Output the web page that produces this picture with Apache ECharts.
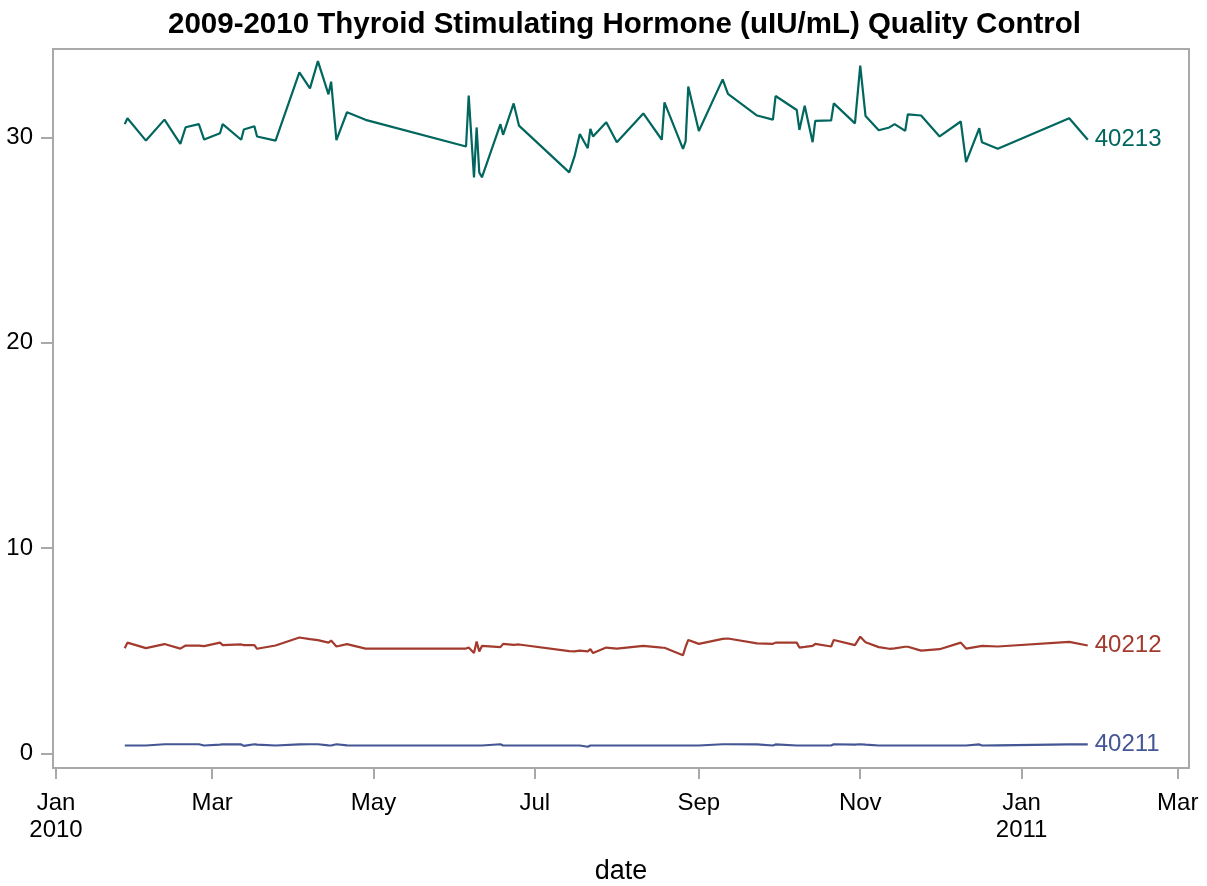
<!DOCTYPE html>
<html>
<head>
<meta charset="utf-8">
<script src="https://cdn.jsdelivr.net/npm/echarts@6/dist/echarts.min.js"></script>
<style>
	html, body { margin: 0; padding: 0; background: #fff; }
	#chart { width: 1207px; height: 886px; }
</style>
</head>
<body>
<div id="chart"></div>
<script>
// run dates (same QC runs for all three lots)
var dates = [
	'2010-01-27', '2010-01-28', '2010-02-04', '2010-02-11', '2010-02-17', '2010-02-19', '2010-02-24', '2010-02-26', '2010-03-04', '2010-03-05',
	'2010-03-12', '2010-03-13', '2010-03-17', '2010-03-18', '2010-03-25', '2010-04-03', '2010-04-07', '2010-04-10', '2010-04-14', '2010-04-15',
	'2010-04-17', '2010-04-21', '2010-04-28', '2010-06-05', '2010-06-06', '2010-06-08', '2010-06-09', '2010-06-10', '2010-06-11', '2010-06-18',
	'2010-06-19', '2010-06-23', '2010-06-25', '2010-07-14', '2010-07-16', '2010-07-18', '2010-07-21', '2010-07-22', '2010-07-23', '2010-07-28',
	'2010-08-01', '2010-08-11', '2010-08-18', '2010-08-19', '2010-08-26', '2010-08-27', '2010-08-28', '2010-09-01', '2010-09-10', '2010-09-12',
	'2010-09-23', '2010-09-29', '2010-09-30', '2010-10-08', '2010-10-09', '2010-10-11', '2010-10-14', '2010-10-15', '2010-10-21', '2010-10-22',
	'2010-10-30', '2010-11-01', '2010-11-03', '2010-11-08', '2010-11-12', '2010-11-14', '2010-11-18', '2010-11-19', '2010-11-24', '2010-12-01',
	'2010-12-09', '2010-12-11', '2010-12-16', '2010-12-17', '2010-12-23', '2011-01-19', '2011-01-26'
];

var lot40211 = [
	0.39, 0.39, 0.39, 0.45, 0.45, 0.45, 0.45, 0.39, 0.43, 0.45,
	0.44, 0.37, 0.45, 0.43, 0.39, 0.44, 0.45, 0.45, 0.40, 0.39,
	0.45, 0.40, 0.39, 0.39, 0.39, 0.39, 0.39, 0.39, 0.39, 0.45,
	0.39, 0.39, 0.39, 0.39, 0.39, 0.39, 0.33, 0.39, 0.39, 0.39,
	0.39, 0.39, 0.39, 0.39, 0.39, 0.39, 0.39, 0.39, 0.45, 0.45,
	0.44, 0.39, 0.44, 0.39, 0.39, 0.39, 0.39, 0.39, 0.39, 0.45,
	0.43, 0.45, 0.43, 0.39, 0.39, 0.39, 0.39, 0.39, 0.39, 0.39,
	0.39, 0.39, 0.44, 0.39, 0.40, 0.44, 0.44
];

var lot40212 = [
	5.13, 5.40, 5.13, 5.33, 5.11, 5.26, 5.25, 5.23, 5.40, 5.28,
	5.31, 5.28, 5.28, 5.10, 5.26, 5.65, 5.57, 5.52, 5.40, 5.50,
	5.21, 5.33, 5.11, 5.11, 5.16, 4.89, 5.45, 4.97, 5.24, 5.18,
	5.34, 5.29, 5.31, 4.99, 4.97, 5.01, 4.97, 5.08, 4.89, 5.16,
	5.11, 5.24, 5.16, 5.15, 4.79, 5.20, 5.53, 5.34, 5.58, 5.60,
	5.36, 5.34, 5.40, 5.40, 5.16, 5.19, 5.24, 5.34, 5.21, 5.53,
	5.28, 5.69, 5.42, 5.18, 5.10, 5.12, 5.20, 5.20, 5.01, 5.08,
	5.40, 5.11, 5.22, 5.24, 5.21, 5.44, 5.26
];

var lot40213 = [
	30.65, 30.94, 29.85, 30.87, 29.69, 30.50, 30.65, 29.90, 30.21, 30.65,
	29.89, 30.39, 30.55, 30.05, 29.85, 33.17, 32.39, 33.72, 32.10, 32.72,
	29.87, 31.23, 30.86, 29.56, 32.04, 28.05, 30.49, 28.30, 28.06, 30.65,
	30.13, 31.66, 30.58, 28.30, 29.08, 30.17, 29.48, 30.42, 30.05, 30.74,
	29.77, 31.17, 29.89, 31.71, 29.45, 29.81, 32.48, 30.32, 32.83, 32.12,
	31.07, 30.87, 32.02, 31.34, 30.37, 31.55, 29.77, 30.81, 30.83, 31.66,
	30.69, 33.50, 31.05, 30.35, 30.49, 30.65, 30.32, 31.13, 31.07, 30.05,
	30.78, 28.80, 30.45, 29.77, 29.45, 30.94, 29.89
];

var monthTicks = ['2010-01-01', '2010-03-01', '2010-05-01', '2010-07-01', '2010-09-01', '2010-11-01', '2011-01-01', '2011-03-01'];
var yTicks = [0, 10, 20, 30];
var monthNames = ['Jan', 'Feb', 'Mar', 'Apr', 'May', 'Jun', 'Jul', 'Aug', 'Sep', 'Oct', 'Nov', 'Dec'];

function ts(s) {
	var p = s.split('-');
	return Date.UTC(+p[0], +p[1] - 1, +p[2]);
}
function pairs(vals) {
	return vals.map(function(v, i) { return [ts(dates[i]), v]; });
}

var DAY = 86400000;
var tickTs = monthTicks.map(ts);
var font = "'Liberation Sans', Arial, sans-serif";
var frame = '#a9a9a9';

var myChart = echarts.init(document.getElementById('chart'));

function lot(name, vals, color) {
	return {
		name: name,
		type: 'line',
		data: pairs(vals),
		showSymbol: false,
		symbol: 'none',
		animation: false,
		lineStyle: { color: color, width: 2.2 },
		itemStyle: { color: color },
		endLabel: {
			show: true,
			formatter: '{a}',
			distance: 7,
			color: color,
			fontFamily: font,
			fontSize: 24
		}
	};
}

// date axis is a plain value axis on UTC timestamps, labels only at odd months
var option = {
	animation: false,
	title: {
		text: '2009-2010 Thyroid Stimulating Hormone (uIU/mL) Quality Control',
		left: 163,
		top: 5,
		textStyle: { fontFamily: font, fontSize: 29.5, fontWeight: 'bold', color: '#000' }
	},
	grid: {
		left: 53,
		right: 18,
		top: 49,
		bottom: 118,
		show: true,
		borderColor: frame,
		borderWidth: 2,
		containLabel: false,
		outerBoundsMode: 'none'
	},
	xAxis: {
		type: 'value',
		min: ts('2010-01-01') - 1.13 * DAY,
		max: ts('2011-03-01') + 4.27 * DAY,
		name: 'date',
		nameLocation: 'middle',
		nameGap: 90,
		nameTextStyle: { fontFamily: font, fontSize: 27, color: '#000' },
		axisLine: { show: true, onZero: false, lineStyle: { color: frame, width: 2 } },
		axisTick: { show: true, length: 11, customValues: tickTs, lineStyle: { color: frame, width: 2 } },
		axisLabel: {
			customValues: tickTs,
			margin: 22,
			fontFamily: font,
			fontSize: 24,
			lineHeight: 27,
			color: '#000',
			formatter: function(v) {
				var d = new Date(v);
				var m = monthNames[d.getUTCMonth()];
				return d.getUTCMonth() === 0 ? m + '\n' + d.getUTCFullYear() : m;
			}
		},
		splitLine: { show: false }
	},
	yAxis: {
		type: 'value',
		min: -0.706,
		max: 34.31,
		axisLine: { show: true, onZero: false, lineStyle: { color: frame, width: 2 } },
		axisTick: { show: true, length: 12, customValues: yTicks, lineStyle: { color: frame, width: 2 } },
		axisLabel: {
			customValues: yTicks,
			margin: 20,
			fontFamily: font,
			fontSize: 24,
			color: '#000'
		},
		splitLine: { show: false }
	},
	series: [
		lot('40211', lot40211, '#445694'),
		lot('40212', lot40212, '#A23A2E'),
		lot('40213', lot40213, '#01665E')
	]
};

myChart.setOption(option);
</script>
</body>
</html>
